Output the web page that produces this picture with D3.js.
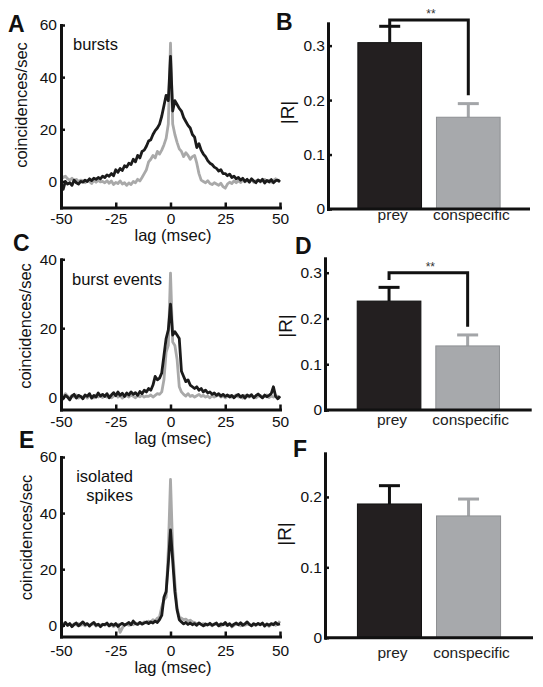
<!DOCTYPE html>
<html><head><meta charset="utf-8">
<script src="https://cdn.jsdelivr.net/npm/d3@7"></script>
<style>
body{margin:0;background:#fff;}
svg{display:block;font-family:"Liberation Sans",Arial,Helvetica,sans-serif;}
</style></head><body>
<svg id="chart" width="543" height="687"></svg>
<script>
// ---------- DATA ----------
const lags = d3.range(-50, 51); // msec, 1 ms bins
const lagTicks = [-50, -25, 0, 25, 50];

// Panel A: bursts
const aGray = [2.5,1.5,2,1,0.5,1.2,0.3,0.8,0,0.5,
  0.2,-0.5,0.3,0,-0.8,0.4,-0.3,0.5,-0.2,0,
  -0.5,0.3,-0.7,0.2,-1.2,-0.4,-0.8,0.2,-1,-0.5,
  -1.5,-0.6,-1.2,0,-0.5,0.8,0.2,1.5,3,4.5,
  7.5,8.5,10,9,11.5,10.5,12,14,16.5,22,
  53,
  22,18,15,12.5,11.5,9.5,11,10,8.5,9.5,
  10,7,3,0.5,0,-0.5,0.3,-0.8,-1.2,-0.5,
  -1,-1.5,-0.7,-2,-2.6,-1,-0.3,-0.8,0.2,-0.5,
  0.3,-0.4,0.5,-0.2,0.4,0,0.6,-0.3,0.2,0.5,
  -0.2,0.3,0.8,0,0.5,-0.3,0.4,1,0.2,0.5];
const aBlack = [-1.5,-3,0,-1,-0.5,-1.5,0.5,-0.5,-1,0,
  -0.3,0.5,0,1,0.3,1.2,0.8,1.5,1,2,
  1.5,2.5,2,3,2.2,4.5,3.5,5,4.2,6,
  5.5,7,6.5,8.5,7.5,10,9,11.5,12,13.5,
  15.5,16,18,19.5,20.5,22,25,29,33,31,
  48,
  27,31,29.5,28,27,24.5,23,21.5,20.5,18,
  17,13,14.5,12,10.5,9.5,8,7,6.5,5.5,
  5,4,4.5,3,3,2.2,2.8,1.5,2,1,
  1.5,0.5,1.2,0,0.8,-0.3,1,0.2,-0.5,0.6,
  0,0.8,-0.6,0.4,-0.2,0.7,-0.5,0.3,0.5,-0.2];

// Panel C: burst events
const cGray = [0.8,0,1,0.3,-0.2,0.5,0,0.6,-0.3,0.2,
  0,0.4,-0.3,0.5,0.1,-0.2,0.6,0,0.3,-0.1,
  0.5,0,0.4,-0.2,0.3,0.8,0,0.4,-0.3,0.2,
  0.5,0,0.6,0.2,-0.2,0.4,0.1,0.5,0,0.3,
  0.2,0.6,0,0.5,1,0.8,1.5,5,13,15,
  36,
  16,15,11,3,1.5,0.8,0.3,1,0.2,0.5,
  0,0.4,0.8,0.2,0.5,0,0.3,-0.2,0.4,0,
  0.3,0.6,0,0.4,-0.2,0.3,0.5,0,0.2,0.6,
  0,0.3,-0.3,0.5,0.2,0,0.4,0.1,-0.2,0.3,
  0.5,0,0.2,0.6,-0.1,0.3,0,0.4,0.2,-0.4];
const cBlack = [0,-0.5,0.5,0,-0.8,0.3,0.8,-0.3,0.5,0.2,
  -0.5,0.6,0.2,1,-0.3,0.5,0,1.2,0.3,0.8,
  0.2,1,-0.2,0.6,1.3,0.4,1.5,0.5,1.1,0.2,
  1.2,0.6,1.5,0.8,1.3,0.5,1.6,1,2,1.5,
  2.5,2,3.5,6,5,5.5,7,12,17,19.5,
  27,
  18,19,18,17,7.5,6,4.5,5,3.5,3,
  2.5,3,2,2.5,1.5,2,1.2,1.5,0.8,1.2,
  0.5,1,0.3,0.8,0.2,0.6,0,0.5,-0.2,0.4,
  0.8,0,0.5,-0.3,0.6,0.2,0.7,-0.2,0.4,0.9,
  0.3,-0.2,0.6,0.1,0.5,1,3,0.2,-0.5,0.3];

// Panel E: isolated spikes
const eGray = [1.5,0.5,0.8,0,0.4,-0.2,0.5,0.1,0.6,0,
  0.3,-0.2,0.5,0,0.2,0.6,-0.3,0.2,0,0.4,
  0,0.5,-0.2,0.3,-0.5,0,0.4,-2.5,-1,0.2,
  0.3,0,0.5,0.2,0.8,0.4,1,0.6,1.2,0.8,
  1.5,1,2,1.6,2.5,3,6.5,9,10,27,
  52,
  27,15,6,3,2.5,2,2.2,1.5,1.8,1.2,
  1,0.5,0.8,0.2,0.6,0,0.4,0.3,-0.2,0.5,
  0.3,0,-0.3,0.5,0.2,-0.1,0.4,-0.6,0,0.3,
  0.2,-0.2,0.5,0,0.3,0.4,-0.2,0.2,0,0.5,
  0.2,0.6,0,0.3,-0.4,0.2,0.5,0,0.4,1.5];
const eBlack = [0.5,-0.3,1,0,0.6,-0.5,0.3,0.8,-0.2,0.5,
  1.2,0.2,0.6,-0.3,0.5,1,0,0.4,-0.5,0.3,
  0.2,0.8,-0.2,0.5,0,0.6,-0.4,0.3,0.7,0,
  0.5,1,0.2,1.5,0.6,0.3,1,0.4,0.8,1.2,
  0.6,1.2,0.8,1.5,1,2,3.5,10,12,22,
  34,
  23,12,5.5,2,1.2,0.5,1,0.3,0.8,0.2,
  0.6,0,0.8,0.3,-0.2,0.5,0.1,0.7,0,0.4,
  0.8,-0.2,0.5,0.2,1,0,0.6,-0.3,0.4,0.8,
  0.2,0.9,0,0.5,1.2,0.3,-0.2,0.6,0.1,0.7,
  0.2,0.8,-0.3,0.5,0,0.6,0.2,1,0.3,0.5];

// Bar panels: |R|
const barCategories = ["prey", "conspecific"];
const bMeans = [0.3055, 0.1685], bSem = [0.030, 0.025];
const dMeans = [0.238, 0.140],   dSem = [0.030, 0.024];
const fMeans = [0.190, 0.173],   fSem = [0.026, 0.024];
const bBracket = [0.347, 0.335, 0.209]; // level, left leg end, right leg end
const dBracket = [0.300, 0.284, 0.182];
const bTicks = [0, 0.1, 0.2, 0.3], dTicks = [0, 0.1, 0.2, 0.3], fTicks = [0, 0.1, 0.2];

// ---------- DRAWING ----------
const svg = d3.select("#chart");
const BLACK = "#1b1b1b", GRAY = "#a9a9a9";
const FS_TICK = 15.5, FS_LAB = 16.5;

function panelLetter(t, x, y) {
  svg.append("text").attr("x", x).attr("y", y).attr("font-size", 23)
    .attr("font-weight", "bold").attr("fill", "#111").text(t);
}

function linePanel(p) {
  const x = d3.scaleLinear().domain([-50, 50]).range([p.x0, p.x1]);
  const y = d3.scaleLinear().domain(p.domain).range([p.yBot, p.yTop]);
  const g = svg.append("g");
  const line = d3.line().x((d, i) => x(lags[i])).y(d => y(d));
  g.append("path").datum(p.gray).attr("d", line).attr("fill", "none")
    .attr("stroke", GRAY).attr("stroke-width", 2.8).attr("stroke-linejoin", "round");
  g.append("path").datum(p.black).attr("d", line).attr("fill", "none")
    .attr("stroke", BLACK).attr("stroke-width", 2.8).attr("stroke-linejoin", "round");

  const ax = g.append("g").attr("transform", `translate(0,${p.yBot})`)
    .call(d3.axisBottom(x).tickValues(lagTicks).tickSizeInner(-5).tickSizeOuter(0)
      .tickFormat(d => String(d))
      .tickPadding(p.tickBase - p.yBot - 0.71 * FS_TICK));
  const ay = g.append("g").attr("transform", `translate(${p.x0},0)`)
    .call(d3.axisLeft(y).tickValues(p.ticks).tickSizeInner(-4).tickSizeOuter(0).tickPadding(4)
      .tickFormat(d => String(d)));
  [ax, ay].forEach(a => {
    a.attr("font-size", null).attr("font-family", null);
    a.select(".domain").attr("stroke", "#111").attr("stroke-width", 3).attr("stroke-linecap", "square");
    a.selectAll(".tick line").attr("stroke", "#111").attr("stroke-width", 2.5);
    a.selectAll(".tick text").attr("font-size", FS_TICK).attr("fill", "#111");
  });

  g.append("text").attr("x", 173).attr("y", p.lagBase).attr("text-anchor", "middle")
    .attr("font-size", FS_LAB).attr("fill", "#111").text("lag (msec)");
  g.append("text").attr("transform", `translate(${p.ylabX},${p.ylabY}) rotate(-90)`)
    .attr("text-anchor", "middle").attr("font-size", FS_LAB).attr("fill", "#111")
    .text("coincidences/sec");
  p.label.forEach((t, i) => {
    g.append("text").attr("x", p.labelX).attr("y", p.labelY + i * 19)
      .attr("text-anchor", p.labelAnchor).attr("font-size", FS_LAB).attr("fill", "#111").text(t);
  });
  panelLetter(p.letter, p.lx, p.ly);
}

function barPanel(p) {
  const x = d3.scaleBand().domain(barCategories).range([p.x0, p.x1])
    .paddingInner(0.19).paddingOuter(p.pOuter);
  const y = d3.scaleLinear().domain(p.domain).range([p.yBot, p.yTop]);
  const g = svg.append("g");
  const fills = ["#231f20", "#a7a9ac"], strokes = ["#111", "#8e9093"];
  const errCol = ["#111", "#a3a5a8"];
  barCategories.forEach((c, i) => {
    const cx = x(c) + x.bandwidth() / 2;
    const top = y(p.means[i] + p.sem[i]);
    g.append("line").attr("x1", cx).attr("x2", cx).attr("y1", y(p.means[i])).attr("y2", top)
      .attr("stroke", errCol[i]).attr("stroke-width", 3);
    g.append("line").attr("x1", cx - 10.5).attr("x2", cx + 10.5).attr("y1", top).attr("y2", top)
      .attr("stroke", errCol[i]).attr("stroke-width", 3);
    g.append("rect").attr("x", x(c)).attr("width", x.bandwidth())
      .attr("y", y(p.means[i])).attr("height", y(p.domain[0]) - y(p.means[i]))
      .attr("fill", fills[i]).attr("stroke", strokes[i]).attr("stroke-width", 1);
    g.append("text").attr("x", cx + 3).attr("y", p.catBase).attr("text-anchor", "middle")
      .attr("font-size", 15.5).attr("fill", "#222").text(c);
  });
  if (p.bracket) {
    const xl = x(barCategories[0]) + x.bandwidth() / 2, xr = x(barCategories[1]) + x.bandwidth() / 2;
    const [lev, le, re] = p.bracket;
    g.append("path").attr("d", `M${xl},${y(le)}V${y(lev)}H${xr}V${y(re)}`)
      .attr("fill", "none").attr("stroke", "#111").attr("stroke-width", 3);
    g.append("text").attr("x", (xl + xr) / 2 + 2).attr("y", y(lev) - 2).attr("text-anchor", "middle")
      .attr("font-size", 12).attr("fill", "#333").text("**");
  }
  const ay = g.append("g").attr("transform", `translate(${p.x0},0)`)
    .call(d3.axisLeft(y).tickValues(p.ticks).tickSizeInner(-4).tickSizeOuter(0).tickPadding(3)
      .tickFormat(d => d === 0 ? "0" : d3.format(".1f")(d)));
  ay.attr("font-size", null).attr("font-family", null);
  ay.select(".domain").attr("stroke", "#111").attr("stroke-width", 3).attr("stroke-linecap", "square");
  ay.selectAll(".tick line").attr("stroke", "#111").attr("stroke-width", 2.5);
  ay.selectAll(".tick text").attr("font-size", FS_TICK).attr("fill", "#111");
  g.append("line").attr("x1", p.x0).attr("x2", p.x1).attr("y1", p.yBot).attr("y2", p.yBot)
    .attr("stroke", "#111").attr("stroke-width", 3);
  g.append("text").attr("transform", `translate(${p.rlabX},${p.rlabY}) rotate(-90)`)
    .attr("text-anchor", "middle").attr("font-size", 19).attr("fill", "#111").text("|R|");
  panelLetter(p.letter, p.lx, p.ly);
}

linePanel({letter: "A", lx: 8, ly: 32, x0: 61, x1: 280, yTop: 25, yBot: 207.5, domain: [-10, 60],
  ticks: [0, 20, 40, 60], black: aBlack, gray: aGray, label: ["bursts"], labelX: 73, labelY: 50,
  labelAnchor: "start", ylabX: 27, ylabY: 105, tickBase: 223.5, lagBase: 241});
linePanel({letter: "C", lx: 13, ly: 251, x0: 61, x1: 280, yTop: 259.3, yBot: 409.5, domain: [-3.6, 40],
  ticks: [0, 20, 40], black: cBlack, gray: cGray, label: ["burst events"], labelX: 72, labelY: 285,
  labelAnchor: "start", ylabX: 31, ylabY: 326, tickBase: 426.5, lagBase: 444});
linePanel({letter: "E", lx: 19, ly: 448, x0: 61, x1: 280, yTop: 457, yBot: 636.5, domain: [-4, 60],
  ticks: [0, 20, 40, 60], black: eBlack, gray: eGray, label: ["isolated", "spikes"], labelX: 133,
  labelY: 481.5, labelAnchor: "end", ylabX: 31.5, ylabY: 537.5, tickBase: 655.5, lagBase: 673});

barPanel({letter: "B", lx: 276, ly: 30, x0: 328, x1: 530, pOuter: 0.38, yTop: 23.3, yBot: 209,
  domain: [0, 0.341], ticks: bTicks, means: bMeans, sem: bSem, bracket: bBracket,
  catBase: 220, rlabX: 294, rlabY: 112.5});
barPanel({letter: "D", lx: 295, ly: 254, x0: 325, x1: 531.7, pOuter: 0.41, yTop: 258.3, yBot: 410,
  domain: [0, 0.3315], ticks: dTicks, means: dMeans, sem: dSem, bracket: dBracket,
  catBase: 425, rlabX: 291.5, rlabY: 326});
barPanel({letter: "F", lx: 293, ly: 456.7, x0: 325, x1: 533, pOuter: 0.41, yTop: 453.3, yBot: 637.7,
  domain: [0, 0.262], ticks: fTicks, means: fMeans, sem: fSem, bracket: null,
  catBase: 658, rlabX: 291, rlabY: 534});
</script>
</body></html>
